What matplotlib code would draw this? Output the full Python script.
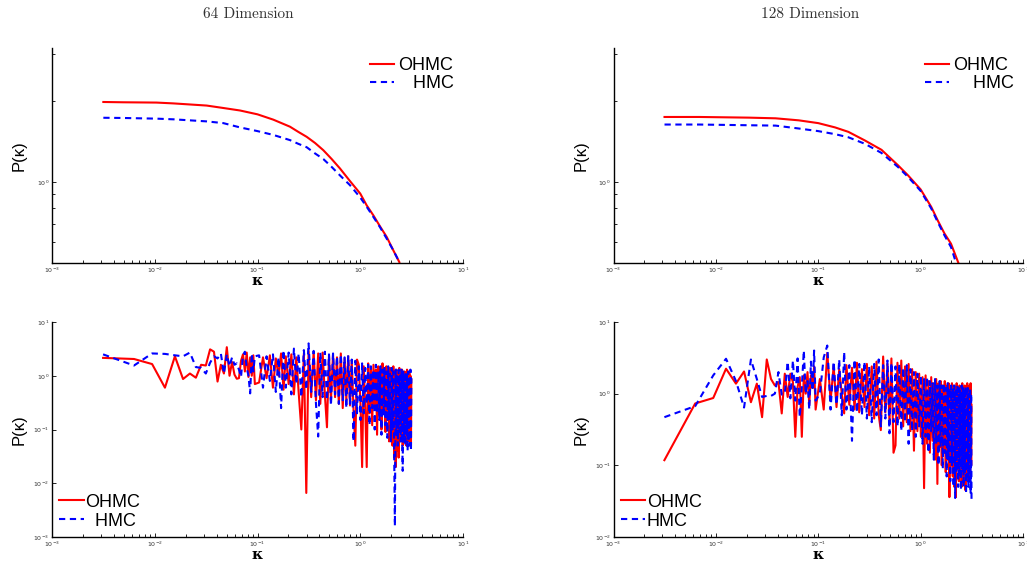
import numpy as np
import matplotlib
matplotlib.use("Agg")
import matplotlib.pyplot as plt
from matplotlib.ticker import LogLocator, NullFormatter, LogFormatterSciNotation

# ---- top row: smooth spectra (kappa, P)
TOP64_K = [0.00316, 0.00494, 0.0104, 0.0152, 0.032, 0.0465, 0.0676, 0.1, 0.1426, 0.207, 0.2495,
           0.301, 0.363, 0.437, 0.527, 0.635, 0.794, 1.0, 1.155, 1.34, 1.556, 1.81, 2.10, 2.40]
OHMC64_TOP = [1.99, 1.985, 1.98, 1.966, 1.93, 1.89, 1.85, 1.79, 1.71, 1.61, 1.54,
              1.476, 1.40, 1.316, 1.22, 1.125, 1.01, 0.907, 0.82, 0.753, 0.685, 0.625, 0.557, 0.504]
HMC64_TOP = [1.738, 1.735, 1.725, 1.715, 1.685, 1.66, 1.60, 1.55, 1.50, 1.435, 1.39,
             1.35, 1.28, 1.22, 1.14, 1.06, 0.975, 0.877, 0.81, 0.743, 0.68, 0.616, 0.557, 0.504]

TOP128_K = [0.00315, 0.00689, 0.021, 0.0383, 0.0646, 0.1, 0.146, 0.197, 0.286, 0.415, 0.6,
            0.754, 1.0, 1.27, 1.47, 1.71, 1.98, 2.34]
OHMC128_TOP = [1.75, 1.75, 1.74, 1.73, 1.70, 1.66, 1.60, 1.54, 1.43, 1.32, 1.157,
               1.06, 0.94, 0.809, 0.72, 0.644, 0.59, 0.50]
HMC128_TOP = [1.64, 1.64, 1.63, 1.625, 1.585, 1.55, 1.51, 1.47, 1.39, 1.285, 1.14,
              1.046, 0.928, 0.798, 0.71, 0.634, 0.573, 0.47]

# ---- bottom row: noisy spectra, sampled at mode index k (kappa = k*pi/1000)
K_IDX = [1, 2, 3, 4, 5, 6, 7, 8, 9, 10, 11, 12, 13, 14, 15, 16, 17, 18, 19, 20,
         21, 22, 23, 24, 25, 26, 27, 28, 29, 30,
         33, 36, 39, 42, 45, 48, 51, 54, 57, 60, 64, 68, 72, 76, 80, 85, 90, 95, 100,
         106, 112, 118, 124, 130, 137, 144, 151, 158, 165, 173, 181, 189, 197, 206, 215,
         224, 233, 243, 253, 263, 274, 285, 296,
         308, 320, 332, 344, 356, 368, 380, 392, 404, 416, 428, 440, 452, 464, 476, 488,
         500, 512, 524, 536, 548, 560, 572, 584, 596, 608, 620, 632, 644, 656, 668, 680,
         692, 704, 716, 728, 740, 752, 764, 776, 788, 800, 812, 824, 836, 848, 860, 872,
         884, 896, 908, 920, 932, 944, 956, 968, 980, 992, 1000]

OHMC64_BOT = [2.15, 2.05, 1.65, 0.60, 2.30, 0.87, 1.10, 0.92, 1.60, 1.55, 3.10, 2.80, 0.78, 1.60, 1.10,
              3.40, 1.00, 1.80, 1.05, 0.88, 0.90, 1.90, 2.50, 1.20, 2.70, 0.95, 2.20, 1.00, 2.40, 0.70,
              0.75, 2.20, 0.90, 2.40, 0.60, 2.10, 1.00, 2.60, 0.55, 2.30, 0.70, 2.50, 0.45, 2.20, 0.50,
              0.10, 2.60, 0.0066, 2.90,
              0.40, 2.80, 0.35, 2.60, 0.30, 2.70, 0.45, 0.11, 2.40, 0.35, 2.50, 0.40, 2.20, 0.30, 2.60,
              0.25, 2.10, 0.35, 2.30, 0.28, 1.90, 0.22, 0.05, 2.00,
              1.60, 0.30, 0.02, 1.50, 0.25, 0.02, 1.70, 0.20, 1.40, 0.12, 1.60, 0.25, 1.30, 0.08, 1.50,
              0.18, 1.40, 0.10, 1.70, 0.22, 1.30, 0.09, 1.50, 0.15, 1.20, 0.06, 1.40, 0.12, 1.30, 0.05,
              1.50, 0.03, 1.20, 0.02, 1.30, 0.04, 1.10, 0.03, 1.40, 0.06, 1.20, 0.10, 1.30, 0.05, 1.10,
              0.08, 1.20, 0.07, 1.00, 0.05, 1.30, 0.09, 1.10, 0.06, 1.20, 0.08, 1.00, 0.05, 0.85]
HMC64_BOT = [2.50, 1.55, 2.60, 2.55, 2.40, 2.30, 2.70, 1.45, 1.40, 1.10, 1.75, 2.30, 2.10, 2.60, 1.10,
             2.50, 1.50, 2.20, 1.60, 1.70, 1.30, 0.95, 2.40, 2.80, 1.40, 1.00, 0.47, 2.60, 1.20, 2.30,
             2.40, 0.60, 2.30, 0.80, 2.50, 0.50, 2.20, 0.25, 3.00, 0.60, 2.70, 0.45, 3.20, 0.70, 2.60,
             0.40, 3.00, 0.55, 4.00,
             0.50, 2.90, 0.30, 0.074, 2.70, 0.40, 2.80, 0.35, 2.50, 0.28, 2.60, 0.45, 2.30, 0.30, 2.50,
             0.35, 2.20, 0.25, 2.40, 0.30, 2.00, 0.06, 1.90, 0.20,
             1.50, 0.15, 1.70, 0.20, 1.40, 0.30, 1.60, 0.12, 1.50, 0.25, 1.30, 0.10, 1.60, 0.20, 1.20,
             0.15, 1.50, 0.08, 1.30, 0.18, 1.40, 0.12, 1.20, 0.07, 1.50, 0.15, 1.10, 0.06, 1.40, 0.10,
             1.20, 0.05, 0.0016, 1.30, 0.08, 1.10, 0.05, 1.30, 0.09, 1.00, 0.06, 1.30, 0.10, 0.017, 1.20,
             0.07, 1.00, 0.05, 1.20, 0.08, 1.00, 0.04, 1.20, 0.06, 1.00, 0.05, 1.30, 0.04, 0.90]

OHMC128_BOT = [0.118, 0.73, 0.87, 2.23, 1.38, 2.04, 0.76, 1.38, 0.47, 3.00, 1.60, 1.30, 1.45, 0.53, 1.90,
               0.90, 1.90, 1.45, 0.25, 1.24, 1.70, 0.25, 1.80, 1.00, 2.00, 0.70, 1.80, 1.20, 2.40, 0.60,
               1.60, 0.60, 3.70, 0.80, 2.40, 0.65, 2.20, 1.00, 0.53, 2.50, 0.70, 2.30, 0.60, 2.70, 0.55,
               2.20, 0.65, 2.60, 0.50,
               2.40, 0.45, 2.80, 0.50, 0.31, 3.30, 0.55, 2.60, 0.40, 3.10, 0.15, 0.19, 2.70, 0.45, 2.90,
               0.35, 2.40, 0.40, 2.60, 0.30, 2.20, 0.16, 2.00, 0.30,
               1.90, 0.25, 1.70, 0.048, 1.80, 0.20, 1.50, 0.15, 1.70, 0.22, 1.40, 0.12, 1.60, 0.055, 1.40,
               0.18, 1.50, 0.10, 1.30, 0.15, 1.50, 0.08, 1.30, 0.12, 1.40, 0.036, 1.20, 0.10, 1.40, 0.07,
               1.30, 0.05, 1.20, 0.036, 1.40, 0.09, 1.10, 0.06, 1.30, 0.10, 1.20, 0.05, 1.40, 0.06, 1.10,
               0.08, 1.30, 0.045, 1.20, 0.09, 1.40, 0.06, 1.10, 0.08, 1.30, 0.07, 1.40, 0.10, 0.70]
HMC128_BOT = [0.47, 0.67, 1.80, 3.07, 1.50, 0.64, 3.00, 1.60, 0.90, 0.93, 0.93, 1.00, 2.00, 0.97, 1.00,
              2.80, 0.86, 2.90, 0.80, 3.10, 0.47, 1.24, 4.00, 1.00, 1.50, 0.60, 2.80, 1.10, 4.00, 0.80,
              1.00, 3.20, 4.70, 0.60, 2.80, 0.70, 3.00, 0.50, 3.80, 0.60, 2.50, 0.22, 3.00, 0.55, 2.60,
              0.50, 2.80, 0.45, 2.40,
              0.40, 2.60, 0.50, 3.00, 0.35, 2.50, 0.45, 2.90, 0.28, 2.70, 0.40, 2.40, 0.35, 2.60, 0.30,
              2.30, 0.40, 2.50, 0.20, 2.20, 0.30, 2.00, 0.25, 1.90,
              0.35, 1.80, 0.20, 1.60, 0.25, 1.70, 0.15, 1.50, 0.30, 1.40, 0.12, 1.60, 0.20, 1.30, 0.10,
              1.50, 0.18, 1.30, 0.09, 1.40, 0.15, 1.20, 0.07, 1.40, 0.12, 1.20, 0.06, 1.30, 0.10, 1.20,
              0.05, 1.30, 0.035, 1.10, 0.08, 1.30, 0.05, 1.20, 0.07, 1.10, 0.045, 1.30, 0.09, 1.20, 0.05,
              1.10, 0.08, 1.25, 0.04, 1.10, 0.07, 1.20, 0.05, 1.00, 0.06, 1.20, 0.04, 1.00, 0.033]

TITLES = ["64 Dimension", "128 Dimension"]

RED, BLUE = "#ff0000", "#0000ff"
DASH = (0, (3.0, 2.2))
W, H = 1027, 563


def px_axes(fig, x0, x1, y0, y1):
    return fig.add_axes([x0 / W, 1 - y1 / H, (x1 - x0) / W, (y1 - y0) / H])


def style(ax, ylim, ylab_x, xlab_y):
    ax.set_xscale("log"); ax.set_yscale("log")
    ax.set_xlim(1e-3, 1e1); ax.set_ylim(*ylim)
    for s in ("top", "right"):
        ax.spines[s].set_visible(False)
    for s in ("left", "bottom"):
        ax.spines[s].set_linewidth(1.0)
    ax.xaxis.set_major_locator(LogLocator(base=10, numticks=10))
    ax.xaxis.set_minor_locator(LogLocator(base=10, subs=np.arange(2, 10), numticks=10))
    ax.xaxis.set_minor_formatter(NullFormatter())
    ax.yaxis.set_minor_formatter(NullFormatter())
    ax.xaxis.set_major_formatter(LogFormatterSciNotation())
    ax.tick_params(which="both", direction="in", labelsize=4.5, labelcolor="#333333",
                   width=0.6, pad=2)
    ax.tick_params(which="major", length=3)
    ax.tick_params(which="minor", length=2)
    ax.set_ylabel("P(κ)", fontsize=12, family="Liberation Sans", va="center")
    ax.yaxis.set_label_coords(ylab_x, 0.5)
    ax.set_xlabel("κ", fontsize=11, family="DejaVu Serif", fontweight="bold", va="center")
    ax.xaxis.set_label_coords(0.5, xlab_y)


fig = plt.figure(figsize=(W / 100, H / 100), dpi=100)

top_data = [(TOP64_K, OHMC64_TOP, HMC64_TOP), (TOP128_K, OHMC128_TOP, HMC128_TOP)]
bot_data = [(OHMC64_BOT, HMC64_BOT, (1e-3, 1e1)), (OHMC128_BOT, HMC128_BOT, (1e-2, 1e1))]
cols = [(52, 463), (613.5, 1023)]
title_x = [248, 810]
top_hmc = ["   HMC", "    HMC"]
bot_hmc = ["  HMC", "HMC"]
kappa = np.array(K_IDX) * np.pi / 1000

for i in range(2):
    x0, x1 = cols[i]
    ax = px_axes(fig, x0, x1, 48, 263)
    k, o, h = top_data[i]
    ax.plot(k, o, color=RED, lw=1.5, label="OHMC")
    ax.plot(k, h, color=BLUE, lw=1.5, ls=DASH, label=top_hmc[i])
    style(ax, (0.5, 10 ** 0.5), -0.08, -0.086)
    ax.yaxis.set_major_locator(LogLocator(base=10, numticks=5))
    ax.yaxis.set_minor_locator(LogLocator(base=10, subs=np.arange(2, 10), numticks=5))
    ax.legend(loc="upper right", bbox_to_anchor=(1.0, 1.0), frameon=False,
              handlelength=1.35, handletextpad=0.2, labelspacing=0.05, borderaxespad=0.1,
              prop={"family": "Liberation Sans", "size": 13})
    fig.text(title_x[i] / W, 1 - 14 / H, TITLES[i], ha="center", va="center",
             fontsize=11, family="cmr10", color="#333333")

    ax = px_axes(fig, x0, x1, 322, 537)
    o, h, ylim = bot_data[i]
    ax.plot(kappa, o, color=RED, lw=1.5, label="OHMC")
    ax.plot(kappa, h, color=BLUE, lw=1.5, ls=DASH, label=bot_hmc[i])
    style(ax, ylim, -0.08, -0.084)
    ax.yaxis.set_major_locator(LogLocator(base=10, numticks=6))
    ax.yaxis.set_minor_locator(plt.NullLocator())
    ax.yaxis.set_major_formatter(LogFormatterSciNotation())
    ax.legend(loc="lower left", bbox_to_anchor=(0.0, 0.0), frameon=False,
              handlelength=1.35, handletextpad=0.1, labelspacing=0.12, borderaxespad=0.0,
              prop={"family": "Liberation Sans", "size": 13})

fig.savefig("out.png", dpi=100)
